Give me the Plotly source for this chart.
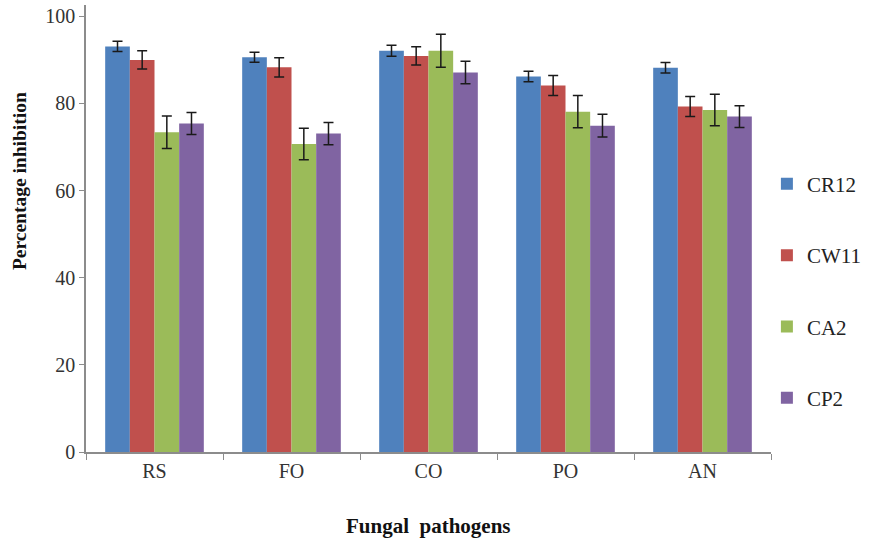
import plotly.graph_objects as go

categories = ["RS", "FO", "CO", "PO", "AN"]
series_names = ["CR12", "CW11", "CA2", "CP2"]
cr12 = [93.1, 90.6, 92.1, 86.2, 88.2]
cw11 = [90.0, 88.3, 90.9, 84.1, 79.3]
ca2 = [73.4, 70.7, 92.1, 78.1, 78.5]
cp2 = [75.4, 73.1, 87.1, 74.9, 77.0]
cr12_err = [1.2, 1.15, 1.25, 1.2, 1.2]
cw11_err = [2.1, 2.2, 2.1, 2.3, 2.3]
ca2_err = [3.75, 3.6, 3.8, 3.7, 3.6]
cp2_err = [2.5, 2.55, 2.6, 2.6, 2.5]
colors = ["#4F81BD", "#C0504D", "#9BBB59", "#8064A2"]

values = [cr12, cw11, ca2, cp2]
errors = [cr12_err, cw11_err, ca2_err, cp2_err]

fig = go.Figure()
for name, vals, errs, col in zip(series_names, values, errors, colors):
    fig.add_trace(go.Bar(
        x=categories, y=vals, name=name, legendgroup=name,
        marker=dict(color=col, line=dict(width=0)),
        error_y=dict(type="data", array=errs, visible=True,
                     color="#1a1a1a", thickness=1.5, width=5),
    ))

serif = "Liberation Serif, Times New Roman, serif"
fig.update_layout(
    width=872, height=538,
    margin=dict(l=86, r=97, t=5, b=86),
    paper_bgcolor="white", plot_bgcolor="white",
    barmode="group", bargap=0.28, bargroupgap=0,
    font=dict(family=serif, color="#333333", size=20),
    showlegend=True,
    legend=dict(x=1.14, y=0.645, xanchor="right", yanchor="top",
                font=dict(family=serif, size=21, color="#222222"),
                tracegroupgap=41, itemwidth=30, bgcolor="rgba(0,0,0,0)"),
    xaxis=dict(showline=True, linecolor="#8c8c8c", linewidth=1.5,
               ticks="outside", tickson="boundaries", ticklen=6,
               tickcolor="#8c8c8c", showgrid=False, automargin=False,
               tickfont=dict(family=serif, size=20, color="#333333")),
    yaxis=dict(range=[0, 102.6], showline=True, linecolor="#8c8c8c", linewidth=1.5,
               ticks="outside", ticklen=5, tickcolor="#8c8c8c", automargin=False,
               tickvals=[0, 20, 40, 60, 80, 100], showgrid=False, zeroline=False,
               tickfont=dict(family=serif, size=20, color="#333333")),
    annotations=[
        dict(text="<b>Fungal  pathogens</b>", xref="paper", yref="paper",
             x=0.5, y=-0.165, xanchor="center", yanchor="middle", showarrow=False,
             font=dict(family=serif, size=21, color="#111111")),
        dict(text="<b>Percentage inhibition</b>", xref="paper", yref="paper",
             x=-0.097, y=0.605, xanchor="center", yanchor="middle", showarrow=False,
             textangle=-90, font=dict(family=serif, size=19.5, color="#111111")),
    ],
)

fig.write_html("out.html", config={"displayModeBar": False},
               post_script="document.body.style.margin='0';document.body.style.padding='0';")
